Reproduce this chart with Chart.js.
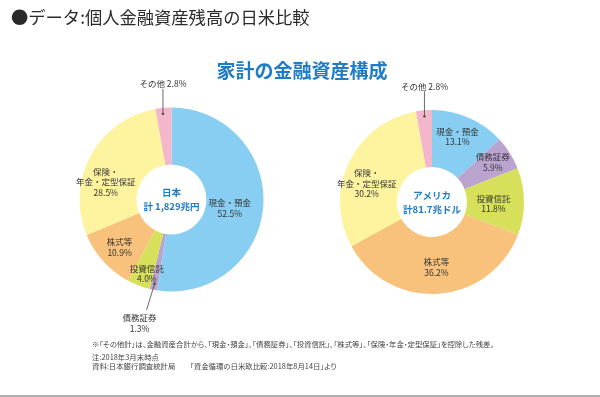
<!DOCTYPE html>
<html lang="ja">
<head>
<meta charset="utf-8">
<title>個人金融資産残高の日米比較</title>
<script src="https://cdn.jsdelivr.net/npm/chart.js@4.4.0/dist/chart.umd.min.js"></script>
<style>
  body { margin: 0; background: #fff; }
  #page {
    position: relative; width: 600px; height: 397px; overflow: hidden;
    font-family: "Noto Sans CJK JP", "Noto Sans", sans-serif; color: #333;
  }
  #page canvas { position: absolute; top: 0; }
  #title { position: absolute; left: 11px; top: 6px; font-size: 17.3px; line-height: 22px; white-space: nowrap; color: #2a2a2a; }
  #subtitle { position: absolute; left: 0; width: 604px; top: 58px; text-align: center;
    font-size: 19px; line-height: 24px; font-weight: bold; color: #1f7cc6; }
  .note { position: absolute; left: 92px; font-size: 7.4px; line-height: 8px; color: #444; white-space: nowrap;
    font-feature-settings: "palt"; }
  #rule { position: absolute; left: 0; right: 0; bottom: 0; height: 2px; background: #b0b0b0; }
</style>
</head>
<body>
<div id="page">
  <canvas id="japanChart" width="300" height="397" style="left:0"></canvas>
  <canvas id="usChart" width="300" height="397" style="left:300px"></canvas>
  <div id="title">●データ:個人金融資産残高の日米比較</div>
  <div id="subtitle">家計の金融資産構成</div>
  <div class="note" style="top:340px">※「その他計」は、金融資産合計から、「現金・預金」、「債務証券」、「投資信託」、「株式等」、「保険・年金・定型保証」を控除した残差。</div>
  <div class="note" style="top:353px">注:2018年3月末時点</div>
  <div class="note" style="top:362px">資料:日本銀行調査統計局　　「資金循環の日米欧比較:2018年8月14日」より</div>
  <div id="rule"></div>
</div>
<script>
// categories, clockwise from 12 o'clock
const categories = ['現金・預金', '債務証券', '投資信託', '株式等', '保険・年金・定型保証', 'その他'];
// how each category name is broken on the chart
const labelLines = [['現金・預金'], ['債務証券'], ['投資信託'], ['株式等'], ['保険・', '年金・定型保証'], ['その他']];
const japanShares = [52.5, 1.3, 4.0, 10.9, 28.5, 2.8];
const usShares = [13.1, 5.9, 11.8, 36.2, 30.2, 2.8];
const regionNames = ['日本', 'アメリカ'];
const regionTotals = ['計 1,829兆円', '計81.7兆ドル'];

const sliceColors = ['#87cef2', '#bba3cf', '#d6e05a', '#f8c27c', '#fef4a0', '#f3b6cb'];

// label placement tweaks (offset from the slice's mid point); callouts sit outside the ring
const japanLabelPos = [
  { dx: -5, dy: 4 },
  { callout: true, dx: -15, dy: 34, lineEnd: [7, -8] },
  { dx: -2, dy: 15 },
  { dx: -5, dy: 5 },
  { dx: -10, dy: 13 },
  { callout: true, inline: true, dx: -1, dy: -30, lineEnd: [0, 5] }
];
const usLabelPos = [
  { dx: 0, dy: -7 },
  { dx: 7, dy: -6 },
  { dx: -2, dy: 2 },
  { dx: 0, dy: 2 },
  { dx: -8, dy: 9 },
  { callout: true, inline: true, dx: 0, dy: -30, lineEnd: [0, 5] }
];

const sliceLabels = {
  id: 'sliceLabels',
  afterDatasetsDraw(chart, args, opts) {
    const ctx = chart.ctx;
    const meta = chart.getDatasetMeta(0);
    const values = chart.data.datasets[0].data;
    const lh = 10.5;
    ctx.save();
    ctx.textAlign = 'center';
    ctx.textBaseline = 'middle';
    ctx.font = '8.5px "Noto Sans CJK JP"';
    meta.data.forEach((arc, i) => {
      const pos = opts.placement[i];
      const pct = values[i].toFixed(1) + '%';
      let lines = labelLines[i].concat([pct]);
      if (pos.inline) lines = [labelLines[i].join('') + ' ' + pct];
      let x, y;
      if (pos.callout) {
        const p = arc.getProps(['x', 'y', 'startAngle', 'endAngle', 'outerRadius']);
        const a = (p.startAngle + p.endAngle) / 2;
        let ax = p.x + Math.cos(a) * (p.outerRadius - 6);
        const ay = p.y + Math.sin(a) * (p.outerRadius - 6);
        x = ax + pos.dx;
        y = ay + pos.dy;
        if (pos.inline) ax = x;
        ctx.strokeStyle = '#444';
        ctx.lineWidth = 0.8;
        ctx.beginPath();
        ctx.moveTo(ax, ay);
        ctx.lineTo(x + pos.lineEnd[0], y + pos.lineEnd[1]);
        ctx.stroke();
        ctx.fillStyle = '#444';
        ctx.beginPath();
        ctx.arc(ax, ay, 1.2, 0, Math.PI * 2);
        ctx.fill();
      } else {
        const t = arc.tooltipPosition();
        x = t.x + pos.dx;
        y = t.y + pos.dy - (lines.length - 1) * lh / 2;
      }
      ctx.fillStyle = '#333';
      lines.forEach((s, k) => ctx.fillText(s, x, y + k * lh));
    });
    // centre caption
    const c = meta.data[0];
    ctx.fillStyle = '#1f7cc6';
    ctx.font = 'bold 9.5px "Noto Sans CJK JP"';
    ctx.fillText(opts.name, c.x, c.y - 7);
    ctx.fillText(opts.total, c.x, c.y + 7);
    ctx.restore();
  }
};

function makeDonut(id, shares, idx, placement, padding) {
  return new Chart(document.getElementById(id), {
    type: 'doughnut',
    data: {
      labels: categories,
      datasets: [{
        data: shares,
        backgroundColor: sliceColors,
        borderWidth: 0,
        hoverOffset: 0
      }]
    },
    options: {
      responsive: false,
      animation: false,
      radius: 92,
      cutout: '38%',
      layout: { padding: padding },
      events: [],
      plugins: {
        legend: { display: false },
        tooltip: { enabled: false },
        sliceLabels: { placement: placement, name: regionNames[idx], total: regionTotals[idx] }
      }
    },
    plugins: [sliceLabels]
  });
}

makeDonut('japanChart', japanShares, 0, japanLabelPos, { left: 43, right: 0, top: 2, bottom: 0 });
makeDonut('usChart', usShares, 1, usLabelPos, { left: 0, right: 36, top: 7, bottom: 0 });
</script>
</body>
</html>
